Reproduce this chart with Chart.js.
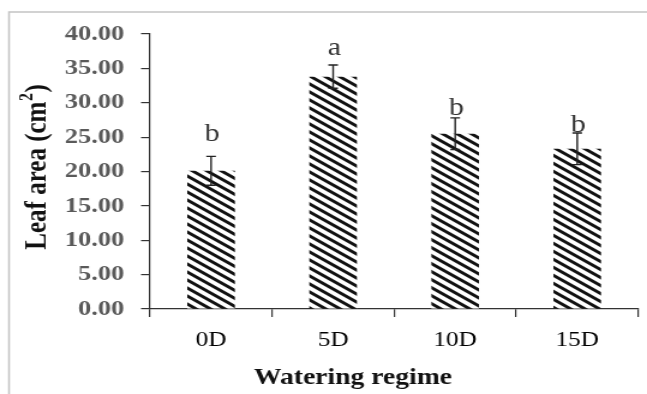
<!DOCTYPE html>
<html>
<head>
<meta charset="utf-8">
<script src="https://cdn.jsdelivr.net/npm/chart.js@4.4.1/dist/chart.umd.min.js"></script>
<style>
  html, body { margin: 0; padding: 0; background: #fff; overflow: hidden; }
  #wrap { width: 539px; height: 394px; transform: scaleX(1.2004); transform-origin: 0 0; }
  canvas { display: block; }
</style>
</head>
<body>
<div id="wrap"><canvas id="c" width="539" height="394"></canvas></div>
<script>
// ---- data ----
const categories = ['0D', '5D', '10D', '15D'];
const leafArea = [20.1, 33.8, 25.5, 23.3];
const stdError = [2.1, 1.7, 2.3, 2.3];
const groupLetters = ['b', 'a', 'b', 'b'];
const letterValues = [24.4, 36.9, 28.2, 25.8];
const yTicks = [0, 5, 10, 15, 20, 25, 30, 35, 40];
const yTitleParts = ['Leaf area (cm', '2', ')'];
const xTitle = 'Watering regime';

// ---- hatch pattern ----
function makeHatch() {
  const p = document.createElement('canvas');
  p.width = 12; p.height = 8;
  const g = p.getContext('2d');
  g.fillStyle = '#fff';
  g.fillRect(0, 0, 12, 8);
  g.strokeStyle = '#111';
  g.lineWidth = 2.9;
  for (let k = -2; k <= 2; k++) {
    g.beginPath();
    g.moveTo(-12, -8 + 8 * k);
    g.lineTo(24, 16 + 8 * k);
    g.stroke();
  }
  return g.createPattern(p, 'repeat');
}

const AXIS = '#333';
const SERIF = "'Liberation Serif', 'Times New Roman', serif";

const framePlugin = {
  id: 'frame',
  beforeDraw(chart) {
    const ctx = chart.ctx;
    ctx.save();
    ctx.fillStyle = '#fff';
    ctx.fillRect(0, 0, chart.width, chart.height);
    ctx.strokeStyle = '#c4c4c4';
    ctx.lineWidth = 1.5;
    ctx.beginPath();
    ctx.moveTo(7.5, chart.height);
    ctx.lineTo(7.5, 12);
    ctx.lineTo(chart.width, 12);
    ctx.stroke();
    ctx.restore();
  }
};

const errorPlugin = {
  id: 'errbars',
  afterDatasetsDraw(chart) {
    const ctx = chart.ctx;
    const meta = chart.getDatasetMeta(0);
    const ys = chart.scales.y;
    ctx.save();
    ctx.strokeStyle = '#222';
    ctx.lineWidth = 1.4;
    meta.data.forEach((bar, i) => {
      const x = bar.x;
      const top = ys.getPixelForValue(leafArea[i] + stdError[i]);
      const bot = ys.getPixelForValue(leafArea[i] - stdError[i]);
      const cap = 4;
      ctx.beginPath();
      ctx.moveTo(x, top); ctx.lineTo(x, bot);
      ctx.moveTo(x - cap, top); ctx.lineTo(x + cap, top);
      ctx.moveTo(x - cap, bot); ctx.lineTo(x + cap, bot);
      ctx.stroke();
      ctx.fillStyle = '#333';
      ctx.font = '25px ' + SERIF;
      ctx.textAlign = 'center';
      ctx.textBaseline = 'alphabetic';
      ctx.fillText(groupLetters[i], x + 1, ys.getPixelForValue(letterValues[i]));
    });
    ctx.restore();
  }
};

const titlePlugin = {
  id: 'axisTitles',
  afterDraw(chart) {
    const ctx = chart.ctx;
    ctx.save();
    ctx.fillStyle = '#111';
    ctx.textAlign = 'center';
    ctx.textBaseline = 'middle';
    ctx.font = 'bold 23px ' + SERIF;
    ctx.fillText(xTitle, 294, 378);
    ctx.translate(30, 167);
    ctx.rotate(-Math.PI / 2);
    const mainFont = 'bold 25px ' + SERIF;
    const supFont = 'bold 16px ' + SERIF;
    ctx.font = mainFont;
    const w0 = ctx.measureText(yTitleParts[0]).width;
    const w2 = ctx.measureText(yTitleParts[2]).width;
    ctx.font = supFont;
    const w1 = ctx.measureText(yTitleParts[1]).width;
    const total = w0 + w1 + 1 + w2;
    let x = -total / 2;
    ctx.textAlign = 'left';
    ctx.textBaseline = 'alphabetic';
    ctx.font = mainFont;
    ctx.fillText(yTitleParts[0], x, 8);
    x += w0;
    ctx.font = supFont;
    ctx.fillText(yTitleParts[1], x + 0.5, -3);
    x += w1 + 1;
    ctx.font = mainFont;
    ctx.fillText(yTitleParts[2], x, 8);
    ctx.restore();
  }
};

new Chart(document.getElementById('c'), {
  type: 'bar',
  data: {
    labels: categories,
    datasets: [{
      data: leafArea,
      backgroundColor: makeHatch(),
      borderWidth: 0,
      barPercentage: 0.39,
      categoryPercentage: 1.0
    }]
  },
  options: {
    responsive: false,
    animation: false,
    devicePixelRatio: 1,
    layout: { padding: { top: 34, right: 7.3, left: 0, bottom: 0 } },
    plugins: { legend: { display: false }, tooltip: { enabled: false } },
    scales: {
      x: {
        grid: { display: true, drawOnChartArea: false, drawTicks: true, tickLength: 8, color: AXIS, offset: true, lineWidth: 1.2 },
        border: { display: true, color: AXIS, width: 1.2 },
        ticks: { color: '#000', font: { family: SERIF, size: 21 }, padding: 11, maxRotation: 0 },
        afterFit(s) { s.height = 85; }
      },
      y: {
        min: 0, max: 40,
        afterBuildTicks(s) { s.ticks = yTicks.map(v => ({ value: v })); },
        grid: { display: true, drawOnChartArea: false, drawTicks: true, tickLength: 7.5, color: AXIS, lineWidth: 1.2 },
        border: { display: true, color: AXIS, width: 1.2 },
        ticks: {
          color: '#5a5a5a',
          font: { family: SERIF, size: 22, weight: 'bold' },
          padding: 14,
          callback: v => Number(v).toFixed(2)
        },
        afterFit(s) { s.width = 125; }
      }
    }
  },
  plugins: [framePlugin, errorPlugin, titlePlugin]
});
</script>
</body>
</html>
